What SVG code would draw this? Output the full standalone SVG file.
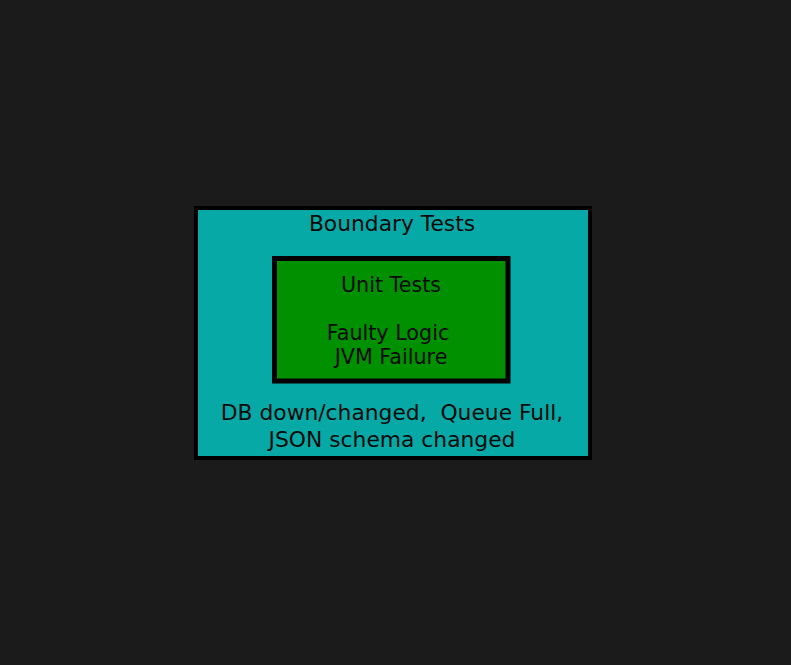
<svg xmlns="http://www.w3.org/2000/svg" width="791" height="665" viewBox="0 0 791 665">
<style>
text{font-family:"DejaVu Sans",sans-serif;fill:#0a0a0a;text-anchor:middle}
.o{font-size:21.8px}
.i{font-size:20.7px}
.box{stroke:#000}
</style>
<rect width="791" height="665" fill="#1b1b1b"/>
<g id="boundary">
<rect class="box" stroke-width="4" x="196" y="208" width="394" height="250" fill="#07a9a6"/>
<text class="o" x="392" y="231">Boundary Tests</text>
<text class="o" x="392" y="420" xml:space="preserve">DB down/changed,  Queue Full,</text>
<text class="o" x="392" y="447">JSON schema changed</text>
</g>
<g id="unit">
<rect class="box" stroke-width="5" x="274.5" y="258.5" width="233.5" height="122.5" fill="#009000"/>
<text class="i" x="391" y="292">Unit Tests</text>
<text class="i" x="388" y="340">Faulty Logic</text>
<text class="i" x="391" y="364">JVM Failure</text>
</g>
<g id="connectors"/>
</svg>
